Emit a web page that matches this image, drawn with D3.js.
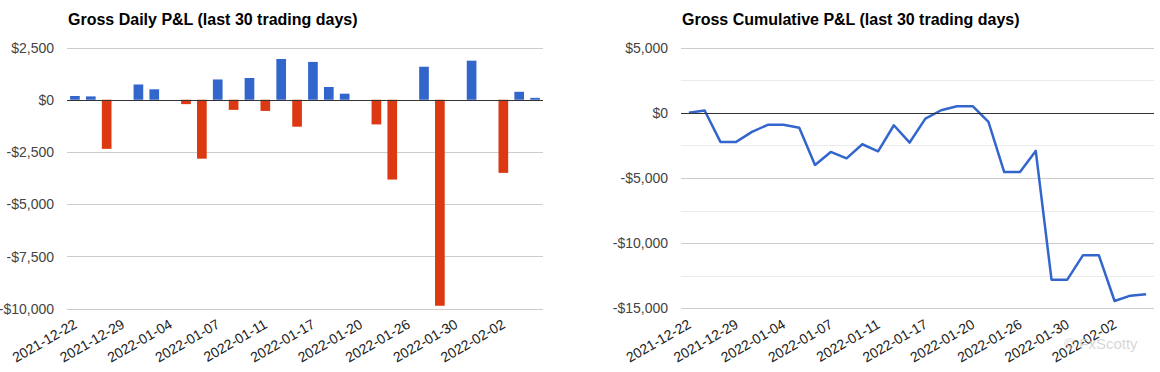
<!DOCTYPE html>
<html>
<head>
<meta charset="utf-8">
<script src="https://cdn.jsdelivr.net/npm/d3@7"></script>
<style>
  body { margin: 0; background: #fff; }
  svg { font-family: "Liberation Sans", Arial, sans-serif; }
</style>
</head>
<body>
<svg id="chart" width="1160" height="372"></svg>
<script>
// labels shown on the x axis, one every 3 trading days
const tickLabels = ["2021-12-22","2021-12-29","2022-01-04","2022-01-07","2022-01-11",
                    "2022-01-17","2022-01-20","2022-01-26","2022-01-30","2022-02-02"];
const tickEvery = 3;

// gross daily P&L, 30 trading days
const daily = [180, 160, -2350, 0, 730, 500, 0, -210, -2820, 970,
               -485, 1040, -535, 1950, -1290, 1810, 610, 290, 0, -1180,
               -3820, 0, 1580, -9860, 0, 1870, 0, -3500, 380, 90];

// gross cumulative P&L
const cumulative = [0, 180, -2230, -2230, -1460, -920, -920, -1150, -4000, -3000,
                    -3490, -2410, -2950, -950, -2280, -440, 200, 510, 510, -690,
                    -4540, -4540, -2920, -12800, -12800, -10920, -10920, -14440, -14030, -13920];

const dailyTicks = [2500, 0, -2500, -5000, -7500, -10000];
const cumTicks = [5000, 0, -5000, -10000, -15000];
const cumMinorTicks = [2500, -2500, -7500, -12500];

const blue = "#3366cc", red = "#dc3912";
const money = v => (v < 0 ? "-$" : "$") + d3.format(",")(Math.abs(v));

const svg = d3.select("#chart");

function panel(opt) {
  const g = svg.append("g");
  const x = d3.scaleBand().domain(d3.range(opt.values.length)).range([opt.left, opt.right]);
  const y = d3.scaleLinear().domain(opt.domain).range([opt.bottom, opt.top]);

  g.append("text")
    .attr("x", opt.left + 1).attr("y", 25)
    .attr("font-size", 16).attr("font-weight", "bold").attr("fill", "#000")
    .text(opt.title);

  // minor gridlines
  g.selectAll(".minor").data(opt.minor || []).enter().append("line")
    .attr("x1", opt.left).attr("x2", opt.right)
    .attr("y1", d => Math.round(y(d)) + 0.5).attr("y2", d => Math.round(y(d)) + 0.5)
    .attr("stroke", "#ebebeb");

  // major gridlines + labels
  g.selectAll(".grid").data(opt.ticks).enter().append("line")
    .attr("x1", opt.left).attr("x2", opt.right)
    .attr("y1", d => Math.round(y(d)) + 0.5).attr("y2", d => Math.round(y(d)) + 0.5)
    .attr("stroke", "#cccccc");

  g.selectAll(".ylab").data(opt.ticks).enter().append("text")
    .attr("x", opt.left - 13).attr("y", d => y(d))
    .attr("dy", "0.36em").attr("text-anchor", "end")
    .attr("font-size", 14).attr("fill", "#444")
    .text(money);

  opt.draw(g, x, y);

  // zero baseline
  g.append("line")
    .attr("x1", opt.left).attr("x2", opt.right)
    .attr("y1", Math.round(y(0)) + 0.5).attr("y2", Math.round(y(0)) + 0.5)
    .attr("stroke", "#333");

  // rotated category labels
  g.selectAll(".xlab").data(tickLabels).enter().append("text")
    .attr("transform", (d, i) => {
      const cx = x(i * tickEvery) + x.bandwidth() / 2;
      return `translate(${cx + 3},327) rotate(-30)`;
    })
    .attr("text-anchor", "end")
    .attr("font-size", 14).attr("fill", "#222")
    .text(d => d);
}

panel({
  title: "Gross Daily P&L (last 30 trading days)",
  values: daily, left: 67, right: 543, top: 47.5, bottom: 308.7,
  domain: [-10000, 2500], ticks: dailyTicks,
  draw: (g, x, y) => {
    const xb = x.copy().paddingInner(0.39).paddingOuter(0.195);
    g.selectAll(".bar").data(daily).enter().append("rect")
      .attr("x", (d, i) => xb(i))
      .attr("width", xb.bandwidth())
      .attr("y", d => y(Math.max(0, d)))
      .attr("height", d => Math.abs(y(d) - y(0)))
      .attr("fill", d => d < 0 ? red : blue);
  }
});

panel({
  title: "Gross Cumulative P&L (last 30 trading days)",
  values: cumulative, left: 681, right: 1154, top: 47.7, bottom: 308.3,
  domain: [-15000, 5000], ticks: cumTicks, minor: cumMinorTicks,
  draw: (g, x, y) => {
    const line = d3.line()
      .x((d, i) => x(i) + x.bandwidth() / 2)
      .y(d => y(d));
    g.append("path").datum(cumulative)
      .attr("d", line)
      .attr("fill", "none").attr("stroke", blue).attr("stroke-width", 2.5)
      .attr("stroke-linejoin", "round");
  }
});

// watermark
svg.append("text")
  .attr("x", 1064).attr("y", 349)
  .attr("font-size", 15).attr("fill", "#cfcfcf").attr("fill-opacity", 0.85)
  .text("© FxScotty");
</script>
</body>
</html>
